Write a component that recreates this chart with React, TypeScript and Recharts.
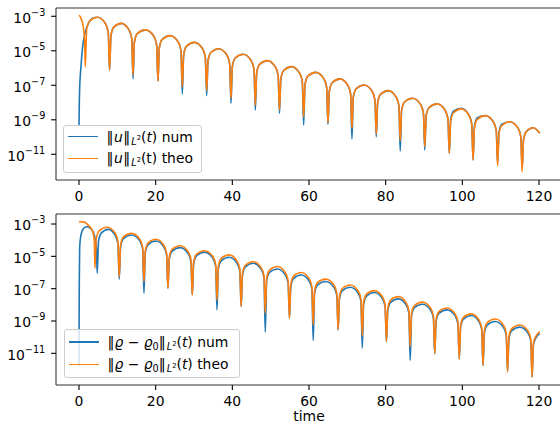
import React from 'react';
import { LineChart, Line, XAxis, YAxis, ReferenceLine } from 'recharts';

// ---------- data (t, log10 value) ----------
const xTicks = [0, 20, 40, 60, 80, 100, 120];
const yTicks = [1e-3, 1e-5, 1e-7, 1e-9, 1e-11];

// top panel, theo (orange)
const uTheoT = [
  0, 0.4, 0.8, 1.2, 1.45, 1.64,
  1.99, 2.74, 4.81, 6.88, 7.63, 7.98,
  8.33, 9.08, 11.04, 13.0, 13.75, 14.1,
  14.45, 15.2, 17.35, 19.5, 20.25, 20.6,
  20.95, 21.7, 23.78, 25.85, 26.6, 26.95,
  27.3, 28.05, 30.13, 32.2, 32.95, 33.3,
  33.65, 34.4, 36.48, 38.55, 39.3, 39.65,
  40.0, 40.75, 42.83, 44.9, 45.65, 46.0,
  46.35, 47.1, 49.15, 51.2, 51.95, 52.3,
  52.65, 53.4, 55.45, 57.5, 58.25, 58.6,
  58.95, 59.7, 61.78, 63.85, 64.6, 64.95,
  65.3, 66.05, 68.08, 70.1, 70.85, 71.2,
  71.55, 72.3, 74.38, 76.45, 77.2, 77.55,
  77.9, 78.65, 80.68, 82.7, 83.45, 83.8,
  84.15, 84.9, 87.0, 89.1, 89.85, 90.2,
  90.55, 91.3, 93.4, 95.5, 96.25, 96.6,
  96.95, 97.7, 99.7, 101.7, 102.45, 102.8,
  103.15, 103.9, 106.0, 108.1, 108.85, 109.2,
  109.55, 110.3, 112.4, 114.5, 115.25, 115.6,
  115.95, 116.7, 118.5, 120.2,
];
const uTheoE = [
  -2.94, -3.05, -3.3, -3.75, -4.4, -5.92,
  -3.78, -3.28, -3.06, -3.42, -3.92, -6.11,
  -4.13, -3.63, -3.41, -3.77, -4.27, -6.4,
  -4.51, -4.01, -3.79, -4.15, -4.65, -6.75,
  -4.84, -4.34, -4.12, -4.48, -4.98, -7.08,
  -5.23, -4.73, -4.51, -4.87, -5.37, -7.31,
  -5.6, -5.1, -4.88, -5.24, -5.74, -7.75,
  -5.92, -5.42, -5.2, -5.56, -6.06, -8.14,
  -6.29, -5.79, -5.57, -5.93, -6.43, -8.43,
  -6.64, -6.14, -5.92, -6.28, -6.78, -8.82,
  -6.97, -6.47, -6.25, -6.61, -7.11, -9.17,
  -7.35, -6.85, -6.63, -6.99, -7.49, -9.49,
  -7.7, -7.2, -6.98, -7.34, -7.84, -9.82,
  -8.03, -7.53, -7.31, -7.67, -8.17, -10.21,
  -8.47, -7.97, -7.75, -8.11, -8.61, -10.56,
  -8.8, -8.3, -8.08, -8.44, -8.94, -10.94,
  -9.09, -8.59, -8.37, -8.73, -9.23, -11.33,
  -9.48, -8.98, -8.76, -9.12, -9.62, -11.66,
  -9.83, -9.33, -9.11, -9.47, -9.97, -12.01,
  -10.18, -9.68, -9.46, -9.78,
];

// top panel, num (blue)
const uNumT = [
  0, 0.08, 0.2, 0.35, 0.52, 0.8, 1.04, 1.4, 1.8, 2.3, 2.9, 3.6,
  4.81, 6.88, 7.63, 7.98,
  8.33, 9.08, 11.04, 13.0, 13.75, 14.1,
  14.45, 15.2, 17.35, 19.5, 20.25, 20.6,
  20.95, 21.7, 23.78, 25.85, 26.6, 26.95,
  27.3, 28.05, 30.13, 32.2, 32.95, 33.3,
  33.65, 34.4, 36.48, 38.55, 39.3, 39.65,
  40.0, 40.75, 42.83, 44.9, 45.65, 46.0,
  46.35, 47.1, 49.15, 51.2, 51.95, 52.3,
  52.65, 53.4, 55.45, 57.5, 58.25, 58.6,
  58.95, 59.7, 61.78, 63.85, 64.6, 64.95,
  65.3, 66.05, 68.08, 70.1, 70.85, 71.2,
  71.55, 72.3, 74.38, 76.45, 77.2, 77.55,
  77.9, 78.65, 80.68, 82.7, 83.45, 83.8,
  84.15, 84.9, 87.0, 89.1, 89.85, 90.2,
  90.55, 91.3, 93.4, 95.5, 96.25, 96.6,
  96.95, 97.7, 99.7, 101.7, 102.45, 102.8,
  103.15, 103.9, 106.0, 108.1, 108.85, 109.2,
  109.55, 110.3, 112.4, 114.5, 115.25, 115.6,
  115.95, 116.7, 118.5, 120.2,
];
const uNumE = [
  -9.3, -8.0, -7.0, -6.4, -5.9, -5.1, -4.6, -4.15, -3.8, -3.5, -3.25, -3.12,
  -3.06, -3.42, -3.92, -6.11,
  -4.13, -3.63, -3.41, -3.77, -4.27, -6.63,
  -4.51, -4.01, -3.79, -4.15, -4.65, -6.75,
  -4.84, -4.34, -4.12, -4.48, -4.98, -7.5,
  -5.23, -4.73, -4.51, -4.87, -5.37, -7.6,
  -5.6, -5.1, -4.88, -5.24, -5.74, -8.04,
  -5.92, -5.42, -5.2, -5.56, -6.06, -8.43,
  -6.29, -5.79, -5.57, -5.93, -6.43, -8.62,
  -6.64, -6.14, -5.92, -6.28, -6.78, -9.3,
  -6.97, -6.47, -6.25, -6.61, -7.11, -9.26,
  -7.35, -6.85, -6.63, -6.99, -7.49, -10.11,
  -7.7, -7.2, -6.98, -7.34, -7.84, -9.98,
  -8.03, -7.53, -7.31, -7.67, -8.17, -10.81,
  -8.47, -7.97, -7.75, -8.11, -8.61, -10.75,
  -8.8, -8.3, -8.08, -8.44, -8.94, -10.94,
  -9.0, -8.5, -8.33, -8.73, -9.23, -11.33,
  -9.4, -8.88, -8.76, -9.12, -9.62, -11.5,
  -9.75, -9.25, -9.11, -9.47, -9.97, -11.81,
  -10.18, -9.68, -9.46, -9.78,
];

// bottom panel, theo (orange)
const rhoTheoT = [
  0, 1.2, 2.5, 3.4, 3.8, 4.0, 4.15,
  4.5, 5.25, 7.33, 9.4, 10.15, 10.5,
  10.85, 11.6, 13.73, 15.85, 16.6, 16.95,
  17.3, 18.05, 20.08, 22.1, 22.85, 23.2,
  23.55, 24.3, 26.38, 28.45, 29.2, 29.55,
  29.9, 30.65, 32.78, 34.9, 35.65, 36.0,
  36.35, 37.1, 39.15, 41.2, 41.95, 42.3,
  42.65, 43.4, 45.45, 47.5, 48.25, 48.6,
  48.95, 49.7, 51.75, 53.8, 54.55, 54.9,
  55.25, 56.0, 58.0, 60.0, 60.75, 61.1,
  61.45, 62.2, 64.35, 66.5, 67.25, 67.6,
  67.95, 68.7, 70.75, 72.8, 73.55, 73.9,
  74.25, 75.0, 77.05, 79.1, 79.85, 80.2,
  80.55, 81.3, 83.3, 85.3, 86.05, 86.4,
  86.75, 87.5, 89.6, 91.7, 92.45, 92.8,
  93.15, 93.9, 96.0, 98.1, 98.85, 99.2,
  99.55, 100.3, 102.3, 104.3, 105.05, 105.4,
  105.75, 106.5, 108.6, 110.7, 111.45, 111.8,
  112.15, 112.9, 115.0, 117.1, 117.85, 118.2,
  118.55, 119.3, 120.2,
];
const rhoTheoE = [
  -2.86, -2.87, -3.1, -3.37, -3.68, -4.1, -5.73,
  -3.92, -3.42, -3.2, -3.56, -4.06, -6.25,
  -4.3, -3.8, -3.58, -3.94, -4.44, -6.56,
  -4.66, -4.16, -3.94, -4.3, -4.8, -6.97,
  -5.06, -4.56, -4.34, -4.7, -5.2, -7.38,
  -5.37, -4.87, -4.65, -5.01, -5.51, -7.69,
  -5.63, -5.13, -4.91, -5.27, -5.77, -8.1,
  -6.05, -5.55, -5.33, -5.69, -6.19, -8.51,
  -6.35, -5.85, -5.63, -5.99, -6.49, -8.82,
  -6.72, -6.22, -6.0, -6.36, -6.86, -9.23,
  -7.13, -6.63, -6.41, -6.77, -7.27, -9.54,
  -7.49, -6.99, -6.77, -7.13, -7.63, -9.91,
  -7.84, -7.34, -7.12, -7.48, -7.98, -10.27,
  -8.21, -7.71, -7.49, -7.85, -8.35, -10.57,
  -8.55, -8.05, -7.83, -8.19, -8.69, -11.02,
  -8.92, -8.42, -8.2, -8.56, -9.06, -11.35,
  -9.28, -8.78, -8.56, -8.92, -9.42, -11.75,
  -9.6, -9.1, -8.88, -9.24, -9.74, -12.12,
  -9.97, -9.47, -9.25, -9.61, -10.11, -12.46,
  -10.35, -9.9, -9.65,
];

// bottom panel, num (blue)
const rhoNumT = [
  0, 0.03, 0.08, 0.17, 0.35, 0.52, 0.8, 1.2, 2.08, 2.8, 3.4, 4.0, 4.4, 4.6, 4.75,
  5.1, 5.85, 7.63, 9.4, 10.15, 10.5,
  10.85, 11.6, 13.73, 15.85, 16.6, 16.95,
  17.3, 18.05, 20.08, 22.1, 22.85, 23.2,
  23.55, 24.3, 26.38, 28.45, 29.2, 29.55,
  29.9, 30.65, 32.78, 34.9, 35.65, 36.0,
  36.35, 37.1, 39.15, 41.2, 41.95, 42.3,
  42.65, 43.4, 45.45, 47.5, 48.25, 48.6,
  48.95, 49.7, 51.75, 53.8, 54.55, 54.9,
  55.25, 56.0, 58.0, 60.0, 60.75, 61.1,
  61.45, 62.2, 64.35, 66.5, 67.25, 67.6,
  67.95, 68.7, 70.75, 72.8, 73.55, 73.9,
  74.25, 75.0, 77.05, 79.1, 79.85, 80.2,
  80.55, 81.3, 83.3, 85.3, 86.05, 86.4,
  86.75, 87.5, 89.6, 91.7, 92.45, 92.8,
  93.15, 93.9, 96.0, 98.1, 98.85, 99.2,
  99.55, 100.3, 102.3, 104.3, 105.05, 105.4,
  105.75, 106.5, 108.6, 110.7, 111.45, 111.8,
  112.15, 112.9, 115.0, 117.1, 117.85, 118.2,
  118.55, 119.3, 120.2,
];
const rhoNumE = [
  -11.8, -9.0, -6.5, -4.5, -3.95, -3.68, -3.45, -3.27, -3.17, -3.23, -3.37, -3.7, -4.2, -4.8, -6.04,
  -4.05, -3.55, -3.33, -3.69, -4.19, -6.41,
  -4.4, -3.9, -3.68, -4.04, -4.54, -7.28,
  -4.77, -4.27, -4.05, -4.41, -4.91, -6.97,
  -5.18, -4.68, -4.46, -4.82, -5.32, -7.38,
  -5.47, -4.97, -4.75, -5.11, -5.61, -8.31,
  -5.78, -5.28, -5.06, -5.42, -5.92, -8.1,
  -6.15, -5.65, -5.43, -5.79, -6.29, -9.69,
  -6.5, -6.0, -5.78, -6.14, -6.64, -8.82,
  -6.87, -6.37, -6.15, -6.51, -7.01, -10.2,
  -7.28, -6.78, -6.56, -6.92, -7.42, -9.54,
  -7.63, -7.13, -6.91, -7.27, -7.77, -10.67,
  -7.96, -7.46, -7.24, -7.6, -8.1, -10.27,
  -8.35, -7.85, -7.63, -7.99, -8.49, -11.44,
  -8.68, -8.18, -7.96, -8.32, -8.82, -11.02,
  -9.03, -8.53, -8.31, -8.67, -9.17, -11.35,
  -9.38, -8.88, -8.66, -9.02, -9.52, -11.75,
  -9.75, -9.25, -9.03, -9.39, -9.89, -12.12,
  -10.1, -9.6, -9.38, -9.74, -10.24, -12.46,
  -10.45, -9.99, -9.79,
];

// ---------- helpers ----------
const toRows = (T: number[], E: number[]) => T.map((t, i) => ({ t, v: Math.pow(10, E[i]) }));
const uNum = toRows(uNumT, uNumE);
const uTheo = toRows(uTheoT, uTheoE);
const rhoNum = toRows(rhoNumT, rhoNumE);
const rhoTheo = toRows(rhoTheoT, rhoTheoE);

const FONT = '"DejaVu Sans", "Liberation Sans", sans-serif';
const FS = 13.9;
const BLUE = '#1f77b4';
const ORANGE = '#ff7f0e';
const SPINE = '#333';

const LogTick = (props: any) => {
  const { x, y, payload } = props;
  const exp = Math.round(Math.log10(payload.value));
  return (
    <text x={x} y={y + 6.4} textAnchor="end" fontFamily={FONT} fontSize={FS} fill="#000">
      <tspan>10</tspan>
      <tspan dy={-7} fontSize={9.7}>{'\u2212' + Math.abs(exp)}</tspan>
    </text>
  );
};

const L2 = () => (
  <span style={{ position: 'relative', top: 3, fontSize: 9.7, marginLeft: 1 }}>
    <i>L</i>
    <span style={{ position: 'relative', top: -4.5, fontSize: 6.8 }}>2</span>
  </span>
);

const LegendBox = ({ left, top, width, height, rows }: any) => (
  <div
    style={{
      position: 'absolute', left, top, width, height, boxSizing: 'border-box',
      border: '1px solid #cccccc', borderRadius: 3, background: 'rgba(255,255,255,0.8)',
      fontFamily: FONT, fontSize: FS, color: '#000',
    }}
  >
    {rows.map((r: any, i: number) => (
      <div key={i} style={{ position: 'absolute', left: 0, top: r.cy - 10, height: 20, width: '100%' }}>
        <div style={{ position: 'absolute', left: 3.5, top: 9.3, width: 30, height: 1.4, background: r.color }} />
        <div style={{ position: 'absolute', left: 42.5, top: 0, lineHeight: '20px', whiteSpace: 'nowrap' }}>{r.label}</div>
      </div>
    ))}
  </div>
);

const Panel = ({ height, marginTop, xAxisHeight, domainExp, series, showTime }: any) => (
  <LineChart width={570} height={height} margin={{ top: marginTop, right: 8, bottom: 0, left: 0 }}>
    <XAxis
      dataKey="t" type="number" domain={[-6, 126]} ticks={xTicks} allowDataOverflow interval={0}
      height={xAxisHeight} tickSize={4.9} tickMargin={5.8}
      axisLine={{ stroke: SPINE, strokeWidth: 1.1 }} tickLine={{ stroke: '#000', strokeWidth: 1.1 }}
      tick={{ fill: '#000', fontSize: FS, fontFamily: FONT }}
      label={showTime ? { value: 'time', position: 'insideBottom', offset: 5, fill: '#000', fontSize: FS, fontFamily: FONT } : undefined}
    />
    <YAxis
      type="number" scale="log" domain={[Math.pow(10, domainExp[0]), Math.pow(10, domainExp[1])]}
      allowDataOverflow ticks={yTicks} interval={0} width={56} tickSize={4.9} tickMargin={5.8}
      axisLine={{ stroke: SPINE, strokeWidth: 1.1 }} tickLine={{ stroke: '#000', strokeWidth: 1.1 }}
      tick={<LogTick />}
    />
    <ReferenceLine y={Math.pow(10, domainExp[1])} stroke={SPINE} strokeWidth={1.1} ifOverflow="visible" />
    {series.map((s: any) => (
      <Line key={s.name} data={s.data} dataKey="v" name={s.name} type="monotone" stroke={s.color}
        strokeWidth={1.6} dot={false} activeDot={false} isAnimationActive={false} />
    ))}
  </LineChart>
);

export default function App() {
  return (
    <div style={{ position: 'absolute', left: 0, top: 0, width: 560, height: 426, overflow: 'hidden', background: '#fff' }}>
      <div style={{ position: 'absolute', left: 0, top: 0 }}>
        <Panel
          height={205} marginTop={8} xAxisHeight={25} domainExp={[-12.49, -2.52]}
          series={[{ name: 'num', data: uNum, color: BLUE }, { name: 'theo', data: uTheo, color: ORANGE }]}
        />
      </div>
      <div style={{ position: 'absolute', left: 0, top: 205 }}>
        <Panel
          height={221} marginTop={9} xAxisHeight={41} domainExp={[-12.96, -2.38]} showTime
          series={[{ name: 'num', data: rhoNum, color: BLUE }, { name: 'theo', data: rhoTheo, color: ORANGE }]}
        />
      </div>
      <LegendBox
        left={63} top={124.5} width={139} height={48}
        rows={[
          { cy: 11.2, color: BLUE, label: <>‖<i style={{ marginLeft: 0.5, marginRight: 0.5 }}>u</i>‖<L2 />(<i>t</i>) num</> },
          { cy: 32.8, color: ORANGE, label: <>‖<i style={{ marginLeft: 0.5, marginRight: 0.5 }}>u</i>‖<L2 />(t) theo</> },
        ]}
      />
      <LegendBox
        left={64} top={329} width={176} height={49}
        rows={[
          { cy: 12, color: BLUE, label: <>‖<i>ϱ</i> − <i>ϱ</i><span style={{ position: 'relative', top: 3, fontSize: 9.7 }}>0</span>‖<L2 />(<i>t</i>) num</> },
          { cy: 34.3, color: ORANGE, label: <>‖<i>ϱ</i> − <i>ϱ</i><span style={{ position: 'relative', top: 3, fontSize: 9.7 }}>0</span>‖<L2 />(<i>t</i>) theo</> },
        ]}
      />
    </div>
  );
}
